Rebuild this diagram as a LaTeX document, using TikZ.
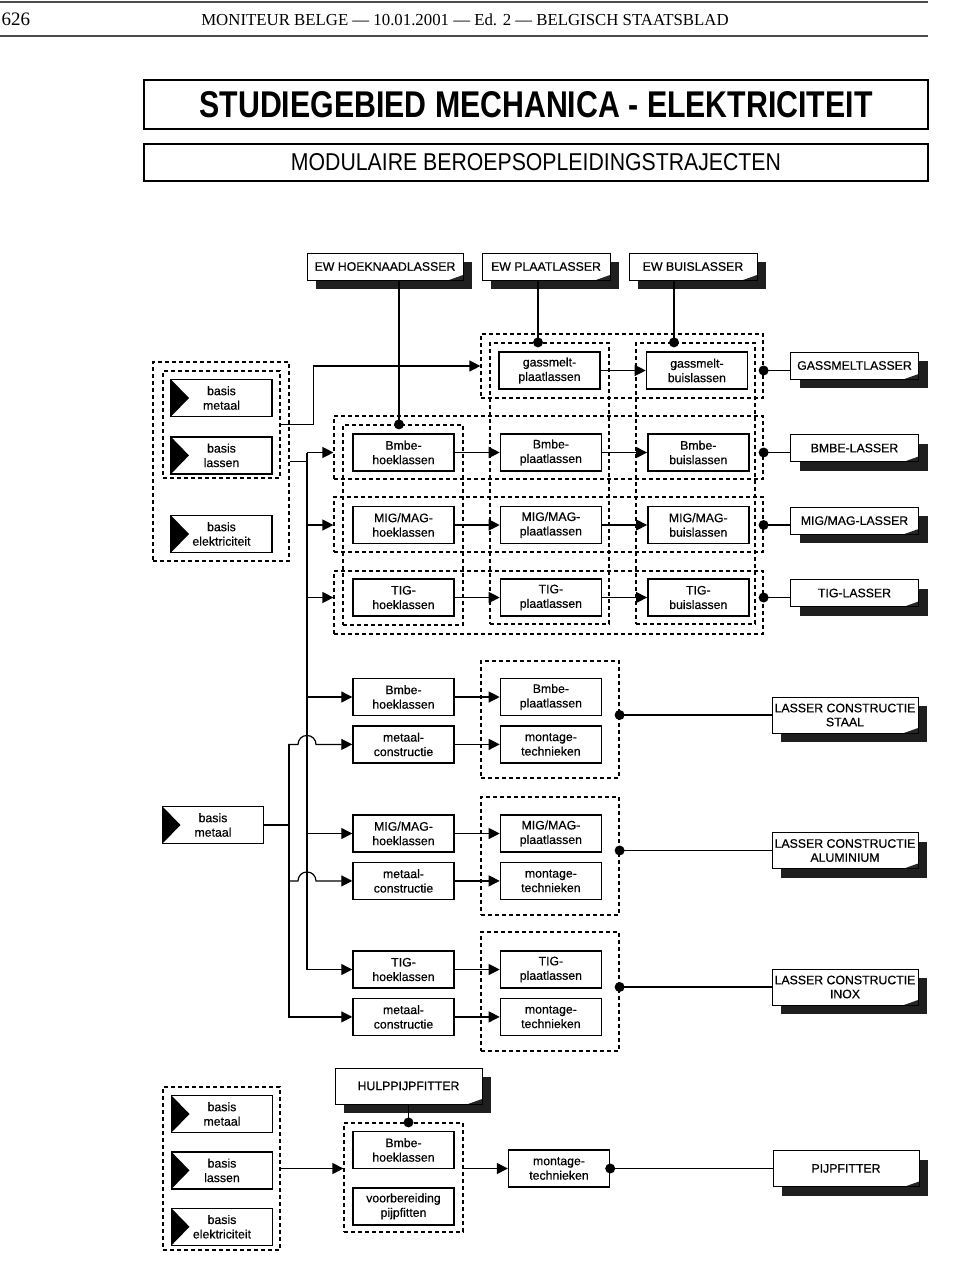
\documentclass[tikz,border=0pt]{standalone}
\usepackage{graphicx}
\usepackage{fontspec}
\setmainfont{Liberation Sans}
\newfontfamily\headserif{Liberation Serif}
\newfontfamily\labelfont{Liberation Sans}[FakeBold=0.5]
\usepackage{tikz}
\usetikzlibrary{arrows.meta, positioning, calc, fit, shadows}

\begin{document}
\begin{tikzpicture}[
    x=1pt, y=-1pt,
    node distance=9pt,
    module/.style={rectangle, draw, line width=1.4pt, minimum width=101pt, minimum height=37pt, inner sep=0pt, align=center, font=\labelfont\fontsize{12.3}{14.5}\selectfont},
    basis/.style={module, path picture={\fill (path picture bounding box.north west) -- ($(path picture bounding box.west)+(18pt,0pt)$) -- (path picture bounding box.south west) -- cycle;}},
    job/.style={rectangle, draw, line width=1pt, fill=white, minimum width=128pt, minimum height=27pt, inner sep=0pt, align=center, font=\labelfont\fontsize{12.3}{14}\selectfont,
        drop shadow={shadow xshift=9pt, shadow yshift=-9pt, fill=black!88, opacity=1},
        path picture={\fill[black!85] ($(path picture bounding box.south east)+(-14pt,0pt)$) -- (path picture bounding box.south east) -- ($(path picture bounding box.south east)+(0pt,5pt)$) -- cycle;}},
    jobwide/.style={job, minimum width=146pt, minimum height=36pt},
    grp/.style={draw, line width=1.2pt, dash pattern=on 4pt off 3pt, inner sep=0pt},
    arrow/.style={-{Triangle[length=11pt, width=11pt]}, line width=1.2pt},
    link/.style={line width=1.1pt},
    joint/.style={circle, fill, inner sep=0pt, minimum size=10pt}
]
    \useasboundingbox (0,0) rectangle (960,1283);

    \draw[line width=1.5pt, black!70] (0,2) -- (928,2);
    \draw[line width=1.5pt, black!70] (0,36) -- (928,36);
    \node[font=\headserif\fontsize{19}{19}\selectfont] (page) at (16,19) {626};
    \node[font=\headserif\fontsize{16.8}{17}\selectfont] (head) at (465,20) {MONITEUR BELGE — 10.01.2001 — Ed. 2 — BELGISCH STAATSBLAD};

    \node[draw, line width=1.2pt, minimum width=784pt, minimum height=49pt, inner sep=0pt] (title) at (536,104.5) {\resizebox{673pt}{26pt}{\bfseries STUDIEGEBIED MECHANICA - ELEKTRICITEIT}};
    \node[draw, line width=1.2pt, minimum width=784pt, minimum height=37pt, inner sep=0pt] (subtitle) at (536,162.5) {\resizebox{490pt}{17pt}{MODULAIRE BEROEPSOPLEIDINGSTRAJECTEN}};

    \node[job, minimum width=156pt] (ewhoek) at (385,266.5) {EW HOEKNAADLASSER};
    \node[job, right=18pt of ewhoek] (ewplaat) {EW PLAATLASSER};
    \node[job, right=18pt of ewplaat] (ewbuis) {EW BUISLASSER};

    \node[module] (gpl) at (549.5,370.5) {gassmelt-\\plaatlassen};
    \node[module, right=45pt of gpl] (gbu) {gassmelt-\\buislassen};
    \node[module] (hB) at (403.5,452.5) {Bmbe-\\hoeklassen};
    \node[module, right=45pt of hB] (pB) {Bmbe-\\plaatlassen};
    \node[module, right=45pt of pB] (bB) {Bmbe-\\buislassen};
    \node[module] (hM) at (403.5,525) {MIG/MAG-\\hoeklassen};
    \node[module, right=45pt of hM] (pM) {MIG/MAG-\\plaatlassen};
    \node[module, right=45pt of pM] (bM) {MIG/MAG-\\buislassen};
    \node[module] (hT) at (403.5,597.5) {TIG-\\hoeklassen};
    \node[module, right=45pt of hT] (pT) {TIG-\\plaatlassen};
    \node[module, right=45pt of pT] (bT) {TIG-\\buislassen};

    \node[grp, fit={(481,334) (763,398)}] (rowG) {};
    \node[grp, fit={(334,416) (763,479)}] (rowB) {};
    \node[grp, fit={(334,497) (763,552)}] (rowM) {};
    \node[grp, fit={(334,571) (763,634)}] (rowT) {};
    \node[grp, fit={(343,425) (463,625)}] (colH) {};
    \node[grp, fit={(490,343) (609,624)}] (colP) {};
    \node[grp, fit={(636,343) (755,624)}] (colB) {};

    \node[job] (jG) at (854.5,365.5) {GASSMELTLASSER};
    \node[job] (jB) at (854.5,448) {BMBE-LASSER};
    \node[job] (jM) at (854.5,520.5) {MIG/MAG-LASSER};
    \node[job] (jT) at (854.5,593) {TIG-LASSER};

    \node[basis] (bm1) at (221.5,398) {basis\\metaal};
    \node[basis, below=19pt of bm1] (bl1) {basis\\lassen};
    \node[basis] (be1) at (221.5,534) {basis\\elektriciteit};
    \node[grp, fit={(163,371) (280,478)}] (grpBi) {};
    \node[grp, fit={(153,362) (289,561)}] (grpBo) {};

    \node[module] (lhB) at (403.5,697) {Bmbe-\\hoeklassen};
    \node[module, below=of lhB] (lmc1) {metaal-\\constructie};
    \node[module, right=45pt of lhB] (lpB) {Bmbe-\\plaatlassen};
    \node[module, right=45pt of lmc1] (lmt1) {montage-\\technieken};
    \node[grp, fit={(481,661) (619,778)}] (grpL1) {};
    \node[jobwide] (staal) at (845,715) {LASSER CONSTRUCTIE\\STAAL};

    \node[module] (lhM) at (403.5,833.5) {MIG/MAG-\\hoeklassen};
    \node[module, below=of lhM] (lmc2) {metaal-\\constructie};
    \node[module, right=45pt of lhM] (lpM) {MIG/MAG-\\plaatlassen};
    \node[module, right=45pt of lmc2] (lmt2) {montage-\\technieken};
    \node[grp, fit={(481,797) (619,915)}] (grpL2) {};
    \node[jobwide] (alu) at (845,850.5) {LASSER CONSTRUCTIE\\ALUMINIUM};

    \node[module] (lhT) at (403.5,969.5) {TIG-\\hoeklassen};
    \node[module, below=of lhT] (lmc3) {metaal-\\constructie};
    \node[module, right=45pt of lhT] (lpT) {TIG-\\plaatlassen};
    \node[module, right=45pt of lmc3] (lmt3) {montage-\\technieken};
    \node[grp, fit={(481,932) (619,1051)}] (grpL3) {};
    \node[jobwide] (inox) at (845,987) {LASSER CONSTRUCTIE\\INOX};

    \node[basis] (bm2) at (213,825) {basis\\metaal};

    \node[basis] (bm3) at (222,1114) {basis\\metaal};
    \node[basis, below=18pt of bm3] (bl3) {basis\\lassen};
    \node[basis, below=18pt of bl3] (be3) {basis\\elektriciteit};
    \node[grp, fit={(163,1087) (280,1250)}] (grpB3) {};
    \node[module] (fH) at (403.5,1150) {Bmbe-\\hoeklassen};
    \node[module, below=18pt of fH] (fV) {voorbereiding\\pijpfitten};
    \node[grp, fit={(344,1123) (463,1232)}] (grpP) {};
    \node[jobwide, minimum width=147pt] (hulp) at (408.5,1086) {HULPPIJPFITTER};
    \node[module] (fM) at (559,1168.5) {montage-\\technieken};
    \node[jobwide] (pijp) at (846,1168.5) {PIJPFITTER};

    \coordinate (spine) at (307,453);
    \coordinate (spine2) at (289,743);

    \draw[link] ([xshift=14pt]ewhoek.south) -- ([xshift=14pt]ewhoek.south |- colH.north) node[joint] (d1) {};
    \draw[link] ([xshift=-8pt]ewplaat.south) -- ([xshift=-8pt]ewplaat.south |- colP.north) node[joint] (d2) {};
    \draw[link] ([xshift=-19pt]ewbuis.south) -- ([xshift=-19pt]ewbuis.south |- colB.north) node[joint] (d3) {};

    \draw[arrow] (gpl) -- (gbu);
    \draw[arrow] (hB) -- (pB);
    \draw[arrow] (pB) -- (bB);
    \draw[arrow] (hM) -- (pM);
    \draw[arrow] (pM) -- (bM);
    \draw[arrow] (hT) -- (pT);
    \draw[arrow] (pT) -- (bT);

    \draw[link] (rowG.east |- gbu) node[joint] (d4) {} -- (gbu -| jG.west);
    \draw[link] (rowB.east |- bB) node[joint] (d5) {} -- (bB -| jB.west);
    \draw[link] (rowM.east |- bM) node[joint] (d6) {} -- (bM -| jM.west);
    \draw[link] (rowT.east |- bT) node[joint] (d7) {} -- (bT -| jT.west);

    \draw[arrow] (grpBi.east) -- ++(33,0) |- (rowG.west);
    \draw[link] (grpBo.east) -- (grpBo.east -| spine);
    \draw[arrow] (hB -| spine) -- (hB -| rowB.west);
    \draw[arrow] (hM -| spine) -- (hM -| rowM.west);
    \draw[arrow] (hT -| spine) -- (hT -| rowT.west);
    \draw[arrow] (hB -| spine) -- (lhT -| spine) -- (lhT.west);
    \draw[arrow] (lhB -| spine) -- (lhB.west);
    \draw[arrow] (lhM -| spine) -- (lhM.west);

    \draw[link] (bm2.east) -- (bm2.east -| spine2);
    \draw[arrow] (lmc3 -| spine2) -- (lmc1 -| spine2) -- ++(9pt,0pt) arc[start angle=180, end angle=0, radius=9pt] -- (lmc1.west);
    \draw[arrow] (lmc2 -| spine2) -- ++(9pt,0pt) arc[start angle=180, end angle=0, radius=9pt] -- (lmc2.west);
    \draw[arrow] (lmc1 -| spine2) -- (lmc3 -| spine2) -- (lmc3.west);

    \draw[arrow] (lhB) -- (lpB);
    \draw[arrow] (lmc1) -- (lmt1);
    \draw[arrow] (lhM) -- (lpM);
    \draw[arrow] (lmc2) -- (lmt2);
    \draw[arrow] (lhT) -- (lpT);
    \draw[arrow] (lmc3) -- (lmt3);

    \draw[link] (grpL1.east |- staal) node[joint] (d8) {} -- (staal.west);
    \draw[link] (grpL2.east |- alu) node[joint] (d9) {} -- (alu.west);
    \draw[link] (grpL3.east |- inox) node[joint] (d10) {} -- (inox.west);

    \draw[link] (hulp.south) -- (hulp.south |- grpP.north) node[joint] (d11) {};
    \draw[arrow] (grpB3.east) -- (grpB3.east -| grpP.west);
    \draw[arrow] (fM -| grpP.east) -- (fM.west);
    \draw[link] (fM.east) node[joint] (d12) {} -- (pijp.west);
\end{tikzpicture}
\end{document}
